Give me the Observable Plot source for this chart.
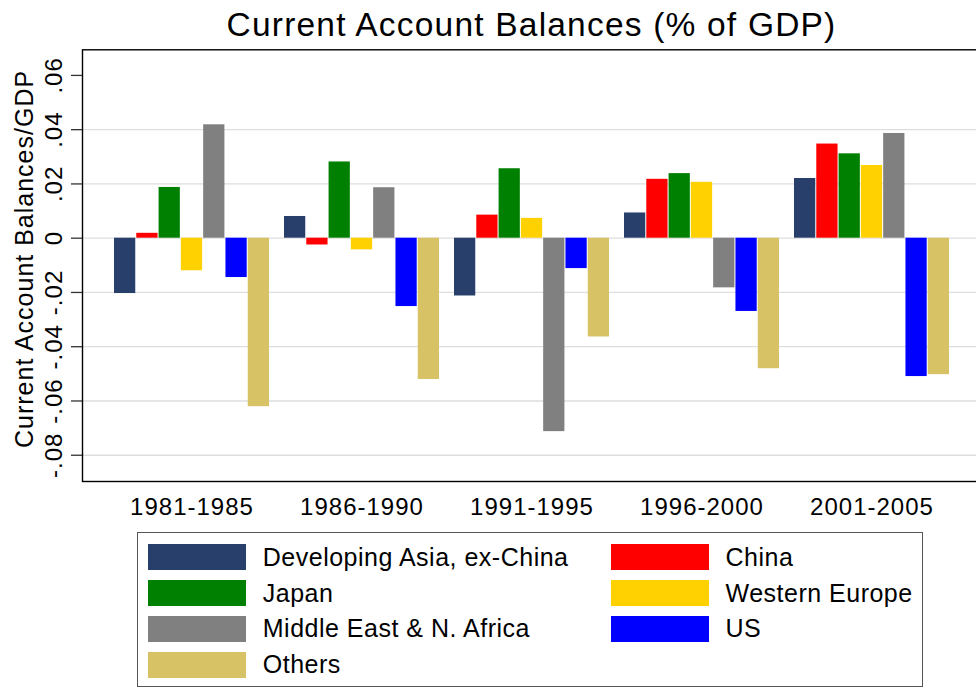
<!DOCTYPE html>
<html>
<head>
<meta charset="utf-8">
<script src="https://cdn.jsdelivr.net/npm/d3@7"></script>
<script src="https://cdn.jsdelivr.net/npm/@observablehq/plot@0.6"></script>
<style>
  html, body { margin: 0; padding: 0; background: white; overflow: hidden; }
  #wrap { position: relative; width: 976px; height: 689px; overflow: hidden; background: white;
          font-family: "Liberation Sans", Arial, Helvetica, sans-serif; color: black; }
  #chart { position: absolute; left: 0; top: 0; z-index: 1; }
  #chart svg text { letter-spacing: 1px; }
  #title { position: absolute; left: 0; width: 1063px; top: 7.6px; text-align: center; z-index: 2;
           font-size: 33.5px; line-height: 1; letter-spacing: 1.2px; white-space: nowrap; }
  #legend { position: absolute; left: 136.7px; top: 531.7px; width: 786px; height: 155.5px; z-index: 2;
            border: 1.2px solid #555; box-sizing: border-box; background: white; }
  .item { position: absolute; height: 26px; display: flex; align-items: center; }
  .sw { width: 98px; height: 26px; flex: none; }
  .lab { margin-left: 16.5px; font-size: 25px; letter-spacing: 0.5px; white-space: nowrap; line-height: 1; }
</style>
</head>
<body>
<div id="wrap">
  <div id="chart"></div>
  <div id="title"></div>
  <div id="legend"></div>
</div>
<script>
// ---- data ----
const titleText = "Current Account Balances (% of GDP)";
const yTitle = "Current Account Balances/GDP";
const periods = ["1981-1985", "1986-1990", "1991-1995", "1996-2000", "2001-2005"];
const regions = ["Developing Asia, ex-China", "China", "Japan", "Western Europe",
                 "Middle East & N. Africa", "US", "Others"];
const devAsia    = [-0.0204,  0.0080, -0.0213,  0.0093,  0.0220];
const china      = [ 0.0018, -0.0025,  0.0085,  0.0217,  0.0347];
const japan      = [ 0.0187,  0.0281,  0.0256,  0.0238,  0.0311];
const westEurope = [-0.0120, -0.0043,  0.0073,  0.0206,  0.0268];
const mena       = [ 0.0418,  0.0186, -0.0713, -0.0183,  0.0386];
const us         = [-0.0145, -0.0252, -0.0112, -0.0270, -0.0510];
const others     = [-0.0621, -0.0521, -0.0364, -0.0481, -0.0503];
const yTicks      = [-0.08, -0.06, -0.04, -0.02, 0, 0.02, 0.04, 0.06];
const yTickLabels = ["-.08", "-.06", "-.04", "-.02", "0", ".02", ".04", ".06"];
const gridTicks   = [-0.08, -0.06, -0.04, -0.02, 0, 0.02, 0.04];

// ---- styling ----
const colors = ["#283f6c", "#ff0000", "#008000", "#ffd100", "#808080", "#0000ff", "#d8c266"];

const series = [devAsia, china, japan, westEurope, mena, us, others];
const data = [];
regions.forEach((r, ri) => periods.forEach((p, pi) => data.push({region: r, period: p, value: series[ri][pi]})));
const yTickData = yTicks.map((v, i) => ({v, label: yTickLabels[i]}));

const W = 985, H = 520, mL = 82, mR = 4, mT = 49.3, mB = 39;
const padIn = 0.086, padOut = 0.176;
const step = (W - mL - mR) / (periods.length - padIn + 2 * padOut);
const bw = step * (1 - padIn);
const bar = bw / regions.length;

const marks = [
  Plot.ruleY(gridTicks, {stroke: "#dedede", strokeWidth: 1.3}),
  ...regions.map((r, i) => Plot.barY(data.filter(d => d.region === r), {
    x: "period", y: "value", fill: colors[i],
    insetLeft: i * bar, insetRight: (regions.length - 1 - i) * bar
  })),
  Plot.frame({stroke: "black", strokeWidth: 1.4}),
  Plot.axisY({ticks: yTicks, tickSize: 11, tickFormat: () => "", label: null, stroke: "#333", strokeWidth: 1.3}),
  Plot.text(yTickData, {y: "v", text: "label", frameAnchor: "left", dx: -20.3, rotate: -90,
    lineAnchor: "bottom", textAnchor: "middle", fontSize: 24, fill: "black"}),
  Plot.text([yTitle], {frameAnchor: "left", dx: -50, dy: -6.7, rotate: -90,
    lineAnchor: "bottom", textAnchor: "middle", fontSize: 25, fill: "black"}),
  Plot.text(periods, {x: d => d, frameAnchor: "bottom", lineAnchor: "top", dy: 16,
    fontSize: 24, fill: "black"})
];

const chart = Plot.plot({
  width: W, height: H,
  marginLeft: mL, marginRight: mR, marginTop: mT, marginBottom: mB,
  style: {maxWidth: "none", background: "white", fontFamily: "Liberation Sans, Arial, sans-serif", overflow: "hidden"},
  x: {type: "band", domain: periods, paddingInner: padIn, paddingOuter: padOut, align: 0.5, axis: null},
  y: {domain: [-0.08968, 0.06944], axis: null},
  marks
});
document.getElementById("chart").appendChild(chart);
document.getElementById("title").textContent = titleText;

// ---- legend ----
const legend = document.getElementById("legend");
const rowTops = [11.6, 47.4, 83.3, 119.3];
const colSw = [10.6, 473.3];
regions.forEach((r, i) => {
  const row = Math.floor(i / 2), col = i % 2;
  const item = document.createElement("div");
  item.className = "item";
  item.style.left = colSw[col] + "px";
  item.style.top = rowTops[row] + "px";
  const sw = document.createElement("div");
  sw.className = "sw";
  sw.style.background = colors[i];
  const lab = document.createElement("span");
  lab.className = "lab";
  lab.textContent = r;
  item.appendChild(sw);
  item.appendChild(lab);
  legend.appendChild(item);
});
</script>
</body>
</html>
